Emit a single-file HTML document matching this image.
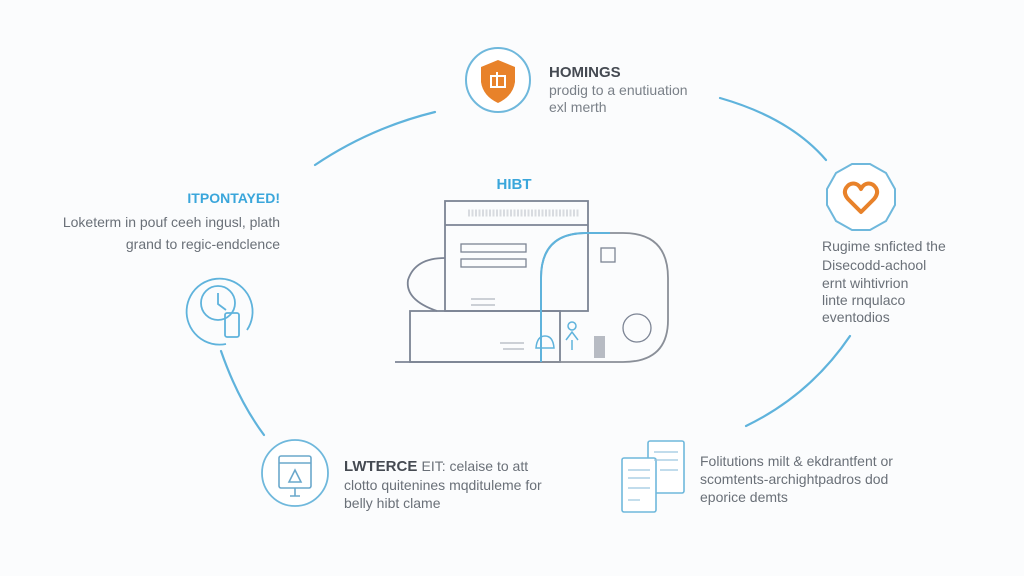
<!DOCTYPE html>
<html><head><meta charset="utf-8"><style>
html,body{margin:0;padding:0;background:#fbfcfd;}
svg{display:block}
text{font-family:"Liberation Sans",sans-serif;}
</style></head><body>
<svg width="1024" height="576" viewBox="0 0 1024 576" xmlns="http://www.w3.org/2000/svg">
<rect width="1024" height="576" fill="#fbfcfd"/>
<g fill="none" stroke="#5fb3dc" stroke-width="2.2" stroke-linecap="round">
<path d="M315 165 Q370 128 435 112"/>
<path d="M720 98 Q790 118 826 160"/>
<path d="M850 336 Q810 395 746 426"/>
<path d="M221 351 Q238 400 264 435"/>
</g>
<!-- top icon -->
<circle cx="498" cy="80" r="32" fill="#fff" stroke="#6fb8dc" stroke-width="2"/>
<path d="M498 60 L515 67 L515 82 Q513 96 498 103 Q483 96 481 82 L481 67 Z" fill="#e8822a"/>
<rect x="491" y="76" width="14" height="11" fill="none" stroke="#fff" stroke-width="2"/>
<line x1="497" y1="72" x2="497" y2="87" stroke="#fff" stroke-width="2"/>
<text x="549" y="77" font-size="15" font-weight="bold" fill="#454a52">HOMINGS</text>
<text x="549" y="95" font-size="14" fill="#7a8088">prodig to a enutiuation</text>
<text x="549" y="112" font-size="14" fill="#7a8088">exl merth</text>
<!-- heart icon -->
<polygon points="852,164 870,164 886,173 895,189 895,205 886,221 870,230 852,230 836,221 827,205 827,189 836,173" fill="#fff" stroke="#6fb8dc" stroke-width="2"/>
<path d="M861 212 L848 199 Q843 193 846 188 Q850 182 856 184 Q859 185 861 189 Q863 185 866 184 Q872 182 876 188 Q879 193 874 199 Z" fill="none" stroke="#e8822a" stroke-width="4" stroke-linejoin="round"/>
<g font-size="14" fill="#6a7078">
<text x="822" y="251">Rugime snficted the</text>
<text x="822" y="270">Disecodd-achool</text>
<text x="822" y="288">ernt wihtivrion</text>
<text x="822" y="305">linte rnqulaco</text>
<text x="822" y="322">eventodios</text>
</g>
<!-- left text -->
<text x="280" y="203" font-size="14" font-weight="bold" fill="#3aa6db" text-anchor="end">ITPONTAYED!</text>
<text x="280" y="227" font-size="14" fill="#6a7078" text-anchor="end">Loketerm in pouf ceeh ingusl, plath</text>
<text x="280" y="249" font-size="14" fill="#6a7078" text-anchor="end">grand to regic-endclence</text>
<!-- left icon -->
<g fill="none" stroke="#5fb3dc" stroke-width="1.8">
<path d="M247 330 A33 33 0 1 0 226 344"/>
<circle cx="218" cy="303" r="17"/>
<path d="M218 293 L218 304 L226 310"/>
<rect x="225" y="313" width="14" height="24" rx="2"/>
</g>
<!-- bottom-left icon -->
<circle cx="295" cy="473" r="33" fill="#fff" stroke="#6fb8dc" stroke-width="1.8"/>
<g fill="none" stroke="#6aa8cc" stroke-width="1.6">
<rect x="279" y="456" width="32" height="32" rx="2"/>
<line x1="279" y1="463" x2="311" y2="463"/>
<path d="M290 496 L300 496 M295 488 L295 496"/>
<path d="M289 482 L295 470 L301 482 Z"/>
</g>
<text x="344" y="471" font-size="15" font-weight="bold" fill="#454a52">LWTERCE <tspan font-weight="normal" fill="#6a7078" font-size="14">EIT: celaise to att</tspan></text>
<text x="344" y="490" font-size="14" fill="#6a7078">clotto quitenines mqdituleme for</text>
<text x="344" y="508" font-size="14" fill="#6a7078">belly hibt clame</text>
<!-- documents -->
<g fill="#fff" stroke="#6fb8dc" stroke-width="1.6">
<rect x="648" y="441" width="36" height="52" rx="2"/>
<rect x="622" y="458" width="34" height="54" rx="2"/>
</g>
<g stroke="#9cc8e0" stroke-width="1.2">
<line x1="654" y1="452" x2="678" y2="452"/><line x1="654" y1="460" x2="678" y2="460"/><line x1="660" y1="470" x2="678" y2="470"/>
<line x1="628" y1="470" x2="650" y2="470"/><line x1="628" y1="478" x2="650" y2="478"/><line x1="628" y1="488" x2="650" y2="488"/><line x1="628" y1="500" x2="640" y2="500"/>
</g>
<g font-size="14" fill="#6a7078">
<text x="700" y="466">Folitutions milt &amp; ekdrantfent or</text>
<text x="700" y="484">scomtents-archightpadros dod</text>
<text x="700" y="502">eporice demts</text>
</g>
<!-- center illustration -->
<text x="514" y="189" font-size="15" font-weight="bold" fill="#3aa6db" text-anchor="middle">HIBT</text>
<g fill="none" stroke="#7c8494" stroke-width="1.8">
<path d="M445 258 Q415 258 408 280 Q405 300 437 311"/>
<rect x="445" y="201" width="143" height="110"/>
<line x1="445" y1="225" x2="588" y2="225"/>
<rect x="410" y="311" width="150" height="51"/>
<line x1="395" y1="362" x2="560" y2="362"/>
<rect x="461" y="244" width="65" height="8" stroke-width="1.3"/>
<rect x="461" y="259" width="65" height="8" stroke-width="1.3"/>
<path d="M541 362 L541 278 Q541 233 586 233 L623 233 Q668 233 668 278 L668 320 Q668 362 623 362 Z" stroke="#8a8f98"/>
<circle cx="637" cy="328" r="14" stroke-width="1.3"/>
<rect x="601" y="248" width="14" height="14" stroke-width="1.3"/>
</g>
<path d="M541 362 L541 278 Q541 233 586 233 L610 233" fill="none" stroke="#5fb3dc" stroke-width="2"/>
<g stroke="#b0b6c0" stroke-width="1.2">
<line x1="468" y1="213" x2="580" y2="213" stroke-dasharray="2 1.5" stroke-width="7" stroke="#d8dbe0"/>
<line x1="471" y1="299" x2="495" y2="299"/><line x1="471" y1="305" x2="495" y2="305"/>
<line x1="500" y1="343" x2="524" y2="343"/><line x1="503" y1="349" x2="524" y2="349"/>
</g>
<g fill="none" stroke="#5fb3dc" stroke-width="1.5">
<path d="M536 348 Q537 336 545 336 Q553 336 554 348 Z"/>
<circle cx="572" cy="326" r="4"/>
<path d="M566 340 L572 332 L578 340 M572 340 L572 350"/>
</g>
<rect x="594" y="336" width="11" height="22" fill="#9aa0aa" opacity="0.7"/>
</svg>
</body></html>
